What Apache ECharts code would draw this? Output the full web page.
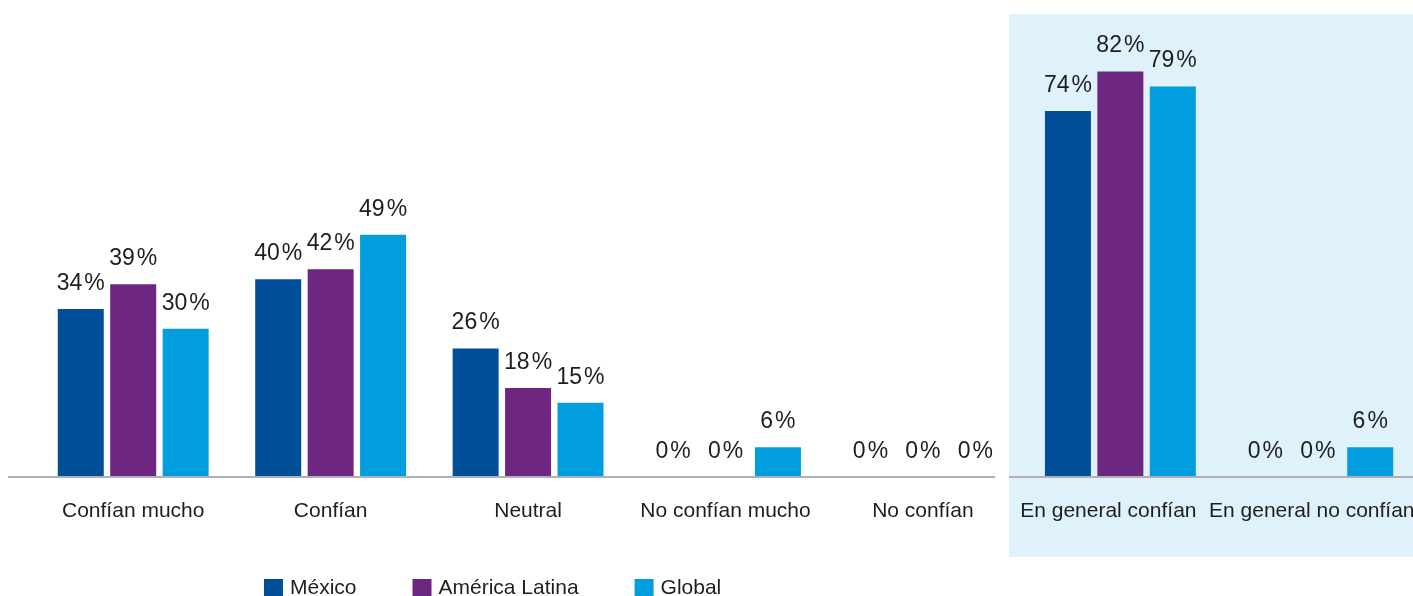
<!DOCTYPE html>
<html>
<head>
<meta charset="utf-8">
<script src="https://cdn.jsdelivr.net/npm/echarts@6/dist/echarts.min.js"></script>
<style>
  html, body { margin: 0; padding: 0; background: #ffffff; }
  #chart { width: 1413px; height: 596px; }
</style>
</head>
<body>
<div id="chart"></div>
<script>
// Categories and survey shares (%)
const categories = [
  'Confían mucho', 'Confían', 'Neutral', 'No confían mucho',
  'No confían', 'En general confían', 'En general no confían'
];
const seriesNames = ['México', 'América Latina', 'Global'];
const mexico        = [34, 40, 26, 0, 0, 74, 0];
const americaLatina = [39, 42, 18, 0, 0, 82, 0];
const global        = [30, 49, 15, 6, 0, 79, 6];

const colors = ['#004f98', '#6e2780', '#009ede'];
const textColor = '#1e1e1e';
const fontFamily = '"Liberation Sans", Arial, sans-serif';

// The two summary labels sit a little left of their bar groups
const labelShift = { 'En general confían': 24, 'En general no confían': 12 };

const chart = echarts.init(document.getElementById('chart'), null, { renderer: 'canvas' });

function barSeries(name, data, color) {
  return {
    name: name,
    type: 'bar',
    data: data,
    barWidth: 46,
    barGap: '14%',
    itemStyle: { color: color },
    label: {
      show: true,
      position: 'top',
      distance: 14,
      formatter: function (p) { return '{n|' + p.value + '}{p|%}'; },
      rich: {
        n: { fontFamily: fontFamily, fontSize: 23, color: textColor },
        p: { fontFamily: fontFamily, fontSize: 23, color: textColor, padding: [0, 0, 0, 2] }
      }
    },
    z: 3
  };
}

chart.setOption({
  animation: false,
  color: colors,
  grid: { left: 34.5, width: 1382, top: 32, height: 445, outerBoundsMode: 'none', containLabel: false },
  xAxis: {
    type: 'category',
    data: categories.map(function (c) {
      return labelShift[c]
        ? { value: c, textStyle: { padding: [0, labelShift[c], 0, 0] } }
        : c;
    }),
    axisLine: { show: false },
    axisTick: { show: false },
    axisLabel: {
      interval: 0,
      margin: 24,
      fontFamily: fontFamily,
      fontSize: 21,
      color: textColor
    }
  },
  yAxis: {
    type: 'value',
    min: 0,
    max: 90,
    show: false,
    splitLine: { show: false }
  },
  legend: {
    data: seriesNames,
    left: 264,
    top: 578,
    padding: 0,
    itemWidth: 19,
    itemHeight: 19,
    itemGap: 56,
    icon: 'rect',
    textStyle: { fontFamily: fontFamily, fontSize: 21, color: textColor, padding: [0, 0, 0, 2] }
  },
  series: [
    barSeries(seriesNames[0], mexico, colors[0]),
    barSeries(seriesNames[1], americaLatina, colors[1]),
    barSeries(seriesNames[2], global, colors[2])
  ]
});

// Shaded panel for the summary categories and the two baseline segments
const baseY = chart.convertToPixel({ yAxisIndex: 0 }, 0);
chart.setOption({
  graphic: [
    {
      type: 'rect', z: -10, silent: true,
      shape: { x: 1009, y: 14, width: 404, height: 543 },
      style: { fill: '#dff1fb' }
    },
    {
      type: 'line', z: 10, silent: true,
      shape: { x1: 8, y1: baseY, x2: 995, y2: baseY },
      style: { stroke: '#b0b0b4', lineWidth: 2 }
    },
    {
      type: 'line', z: 10, silent: true,
      shape: { x1: 1009, y1: baseY, x2: 1413, y2: baseY },
      style: { stroke: '#b0b0b4', lineWidth: 2 }
    }
  ]
});
</script>
</body>
</html>
